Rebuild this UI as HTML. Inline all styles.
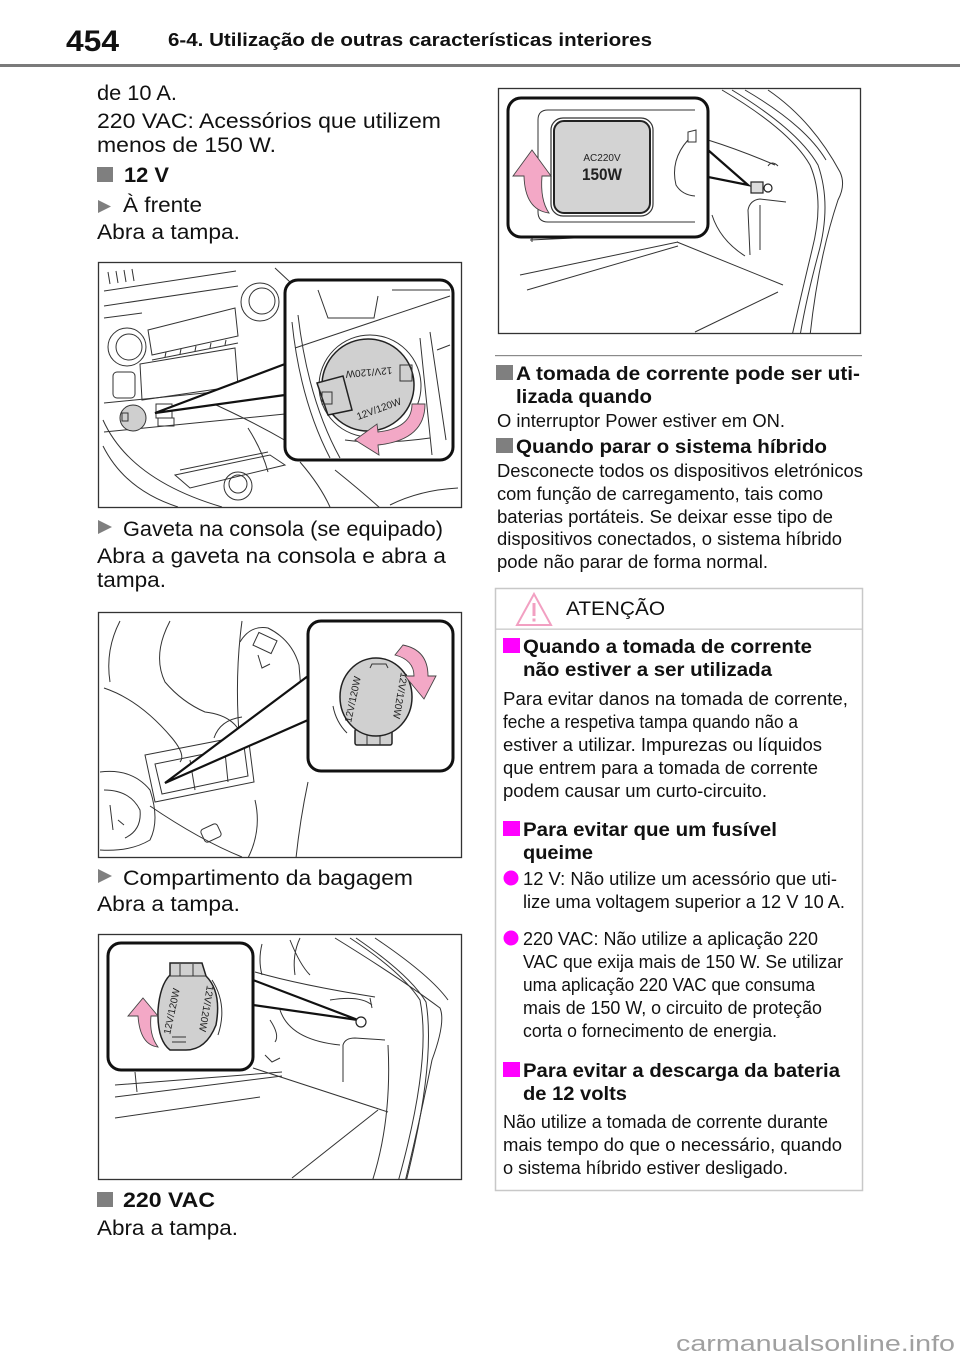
<!DOCTYPE html>
<html><head><meta charset="utf-8">
<style>html,body{margin:0;padding:0;background:#fff}svg{display:block}</style>
</head><body>
<svg width="960" height="1362" viewBox="0 0 960 1362" xmlns="http://www.w3.org/2000/svg" font-family="'Liberation Sans', Arial, sans-serif">
<defs>
<clipPath id="c1"><rect x="98" y="262" width="364" height="246"/></clipPath>
<clipPath id="c2"><rect x="98" y="612" width="364" height="246"/></clipPath>
<clipPath id="c3"><rect x="98" y="934" width="364" height="246"/></clipPath>
<clipPath id="c4"><rect x="498" y="88" width="363" height="246"/></clipPath>
</defs>
<style>
.t{font-size:21px;fill:#111}
.s{font-size:18px;fill:#111}
.h{font-size:19px;font-weight:bold;fill:#111}
.ln{fill:none;stroke:#333;stroke-width:1}
.cap{fill:#d0d0d0;stroke:#222;stroke-width:1.5}
.pk{fill:#f3a8c6;stroke:#444;stroke-width:0.9}
.co{fill:#fff;stroke:#111;stroke-width:3}
.ct{font-size:10px;fill:#222}
</style>

<!-- Header -->
<text x="66" y="51" font-size="30" font-weight="bold" fill="#111" textLength="53" lengthAdjust="spacingAndGlyphs">454</text>
<text x="168" y="46" font-size="18" font-weight="bold" fill="#111" textLength="484" lengthAdjust="spacingAndGlyphs">6-4. Utilização de outras características interiores</text>
<rect x="0" y="64" width="960" height="3" fill="#7a7a7a"/>

<!-- Left column text -->
<text class="t" x="97" y="100" textLength="80" lengthAdjust="spacingAndGlyphs">de 10 A.</text>
<text class="t" x="97" y="128" textLength="344" lengthAdjust="spacingAndGlyphs">220 VAC: Acessórios que utilizem</text>
<text class="t" x="97" y="152" textLength="179" lengthAdjust="spacingAndGlyphs">menos de 150 W.</text>
<rect x="97" y="167" width="16" height="15" fill="#7f7f7f"/>
<text class="t" x="124" y="182" font-weight="bold" textLength="45" lengthAdjust="spacingAndGlyphs">12 V</text>
<polygon points="98,200 111,206.5 98,213" fill="#7f7f7f"/>
<text class="t" x="123" y="212" textLength="79" lengthAdjust="spacingAndGlyphs">À frente</text>
<text class="t" x="97" y="239" textLength="143" lengthAdjust="spacingAndGlyphs">Abra a tampa.</text>

<polygon points="98,520 112,527 98,534" fill="#7f7f7f"/>
<text class="t" x="123" y="536" textLength="320" lengthAdjust="spacingAndGlyphs">Gaveta na consola (se equipado)</text>
<text class="t" x="97" y="563" textLength="349" lengthAdjust="spacingAndGlyphs">Abra a gaveta na consola e abra a</text>
<text class="t" x="97" y="587" textLength="69" lengthAdjust="spacingAndGlyphs">tampa.</text>

<polygon points="98,869 112,876 98,883" fill="#7f7f7f"/>
<text class="t" x="123" y="885" textLength="290" lengthAdjust="spacingAndGlyphs">Compartimento da bagagem</text>
<text class="t" x="97" y="911" textLength="143" lengthAdjust="spacingAndGlyphs">Abra a tampa.</text>

<rect x="97" y="1192" width="16" height="15" fill="#7f7f7f"/>
<text class="t" x="123" y="1207" font-weight="bold" textLength="92" lengthAdjust="spacingAndGlyphs">220 VAC</text>
<text class="t" x="97" y="1235" textLength="141" lengthAdjust="spacingAndGlyphs">Abra a tampa.</text>

<!-- Illustration 1 -->
<rect x="98.5" y="262.5" width="363" height="245" fill="#fff" stroke="#333" stroke-width="1.3"/>
<g clip-path="url(#c1)">
  <path class="ln" d="M108 272 L110 284 M116 271 L118 283 M124 270 L126 282 M132 269 L134 281"/>
  <path class="ln" d="M104 291 L236 271 M104 306 L238 286 M104 318 L142 313"/>
  <polygon class="ln" points="148,330 235,308 238,336 152,355"/>
  <path class="ln" d="M152 360 L238 343 M165 357 L166 352 M180 354 L181 349 M195 351 L196 346 M210 348 L211 343 M225 345 L226 340"/>
  <polygon class="ln" points="140,364 235,348 238,386 142,400"/>
  <rect class="ln" x="113" y="372" width="22" height="26" rx="4"/>
  <circle class="ln" cx="260" cy="302" r="19" fill="#fff"/>
  <circle class="ln" cx="262" cy="301" r="13"/>
  <circle class="ln" cx="127" cy="347" r="19" fill="#fff"/>
  <circle class="ln" cx="129" cy="347" r="13"/>
  <path class="ln" d="M104 403 L285 385 M104 432 L285 414"/>
  <circle cx="133" cy="418" r="13" fill="#cfcfcf" stroke="#333" stroke-width="1"/>
  <rect class="ln" x="122" y="413" width="6" height="8"/>
  <rect class="ln" x="156" y="404" width="16" height="14"/>
  <rect class="ln" x="158" y="418" width="16" height="8"/>
  <path class="ln" d="M103 420 Q130 480 222 507 M103 446 Q125 490 178 507"/>
  <path class="ln" d="M205 400 Q250 420 288 442 M248 428 Q262 450 268 472"/>
  <path class="ln" d="M175 475 L270 455 L285 465 L190 488 Z M180 470 L268 452"/>
  <circle class="ln" cx="238" cy="486" r="14" fill="#fff"/>
  <circle class="ln" cx="238" cy="484" r="9"/>
  <path class="ln" d="M335 470 Q360 490 380 508 M390 505 Q420 490 458 488 M300 462 Q320 485 330 507"/>
  <path class="ln" d="M275 268 L290 282"/>
</g>
<polygon points="285,364 155,413 285,395" fill="#fff" stroke="#111" stroke-width="2.2"/>
<rect class="co" x="285" y="280" width="168" height="180" rx="13"/>
<g>
  <path class="ln" d="M295 348 L450 296"/>
  <path class="ln" d="M318 290 L328 318 L374 318 L378 296"/>
  <path class="ln" d="M392 290 L450 290"/>
  <path class="ln" d="M292 322 Q300 400 330 458 M298 315 Q308 400 340 458"/>
  <path class="ln" d="M420 338 L432 455 M430 332 L446 440 M437 350 L450 345"/>
  <path class="ln" d="M345 440 Q380 445 430 438"/>
  <circle class="ln" cx="370" cy="386" r="51"/>
  <circle class="cap" cx="368" cy="385" r="46"/>
  <polygon class="cap" points="317,383 343,376 352,410 328,415"/>
  <rect class="ln" x="322" y="392" width="10" height="12"/>
  <rect class="ln" x="400" y="365" width="12" height="16"/>
  <text class="ct" transform="translate(370,385) rotate(175)" y="16" text-anchor="middle">12V/120W</text>
  <text class="ct" transform="translate(380,412) rotate(-20)" text-anchor="middle">12V/120W</text>
  <path class="pk" d="M412 404 Q412 428 378 432 L377 424 L355 440 L379 455 L378 445 Q425 440 425 404 Z"/>
</g>

<!-- Illustration 2 -->
<rect x="98.5" y="612.5" width="363" height="245" fill="#fff" stroke="#333" stroke-width="1.3"/>
<g clip-path="url(#c2)">
  <path class="ln" d="M120 621 Q105 650 110 682"/>
  <path class="ln" d="M104 688 Q140 700 172 738 Q186 755 180 762"/>
  <path class="ln" d="M170 621 Q152 655 165 682 Q182 702 205 712 Q240 716 244 745"/>
  <path class="ln" d="M242 621 Q234 680 240 746"/>
  <path class="ln" d="M240 642 Q250 625 268 628 Q292 640 299 665 L301 690 Q299 702 290 706"/>
  <rect class="ln" x="255" y="636" width="20" height="14" transform="rotate(25 265 643)"/>
  <path class="ln" d="M258 655 L262 668 L270 664"/>
  <path class="ln" d="M214 738 Q220 720 242 717"/>
  <polygon class="ln" points="145,755 248,735 254,782 155,802"/>
  <polygon class="ln" points="155,764 244,746 248,776 162,794"/>
  <path class="ln" d="M190 760 L195 790 M225 752 L228 782"/>
  <path class="ln" d="M100 772 Q132 768 150 790 Q160 820 150 840 Q130 852 100 850"/>
  <path class="ln" d="M104 790 Q130 790 140 810 Q142 830 125 838 M110 805 L113 830 M118 820 L124 825"/>
  <path class="ln" d="M150 806 Q200 840 242 857 M255 800 Q262 830 248 858"/>
  <path class="ln" d="M308 782 Q300 820 296 858"/>
  <rect class="ln" x="202" y="826" width="18" height="14" rx="3" transform="rotate(-25 211 833)"/>
</g>
<polygon points="308,676 165,783 308,720" fill="#fff" stroke="#111" stroke-width="2.2"/>
<rect class="co" x="308" y="621" width="145" height="150" rx="13"/>
<g>
  <rect class="cap" x="355" y="729" width="37" height="16" rx="2"/>
  <path class="ln" d="M367 731 L367 745 M380 731 L380 745"/>
  <ellipse class="cap" cx="376" cy="697" rx="36" ry="39"/>
  <path class="ln" d="M370 668 L372 664 L386 664 L388 668"/>
  <path class="ln" d="M333 706 Q336 722 347 733"/>
  <text class="ct" transform="translate(356,700) rotate(-78)" text-anchor="middle">12V/120W</text>
  <text class="ct" transform="translate(397,695) rotate(100)" text-anchor="middle">12V/120W</text>
  <path class="pk" d="M403 645 Q428 650 428 676 L436 676 L424 699 L405 676 L414 676 Q414 660 395 655 Z"/>
</g>

<!-- Illustration 3 -->
<rect x="98.5" y="934.5" width="363" height="245" fill="#fff" stroke="#333" stroke-width="1.3"/>
<g clip-path="url(#c3)">
  <path class="ln" d="M335 938 Q400 978 440 1008 Q446 1022 432 1060 Q420 1120 405 1182"/>
  <path class="ln" d="M350 938 Q402 972 420 1000 Q432 1060 398 1182"/>
  <path class="ln" d="M356 938 Q410 975 426 1002 Q436 1062 406 1182"/>
  <path class="ln" d="M375 938 Q430 975 448 1000"/>
  <path class="ln" d="M388 1045 Q392 1120 372 1182"/>
  <path class="ln" d="M255 972 Q300 985 375 997 M262 944 Q258 960 262 975"/>
  <path class="ln" d="M290 940 Q300 965 310 975 M300 938 Q292 955 295 975"/>
  <path class="ln" d="M330 1000 Q360 995 372 1005 M370 998 L372 1008"/>
  <path class="ln" d="M343 1082 L343 1045 Q345 1038 355 1038 L385 1040"/>
  <path class="ln" d="M280 1010 Q290 1040 340 1045"/>
  <path class="ln" d="M270 1020 Q280 1035 275 1042"/>
  <path class="ln" d="M115 1085 L282 1072 M115 1097 L282 1076 M115 1118 L260 1097"/>
  <path class="ln" d="M253 1068 L388 1112"/>
  <path class="ln" d="M292 1178 L378 1110"/>
  <path class="ln" d="M265 1055 L272 1062 L280 1058"/>
  <path class="ln" d="M135 1072 L137 1092"/>
</g>
<polygon points="253,980 358,1020 253,1005" fill="#fff" stroke="#111" stroke-width="2.2"/>
<circle cx="361" cy="1022" r="5" fill="#fff" stroke="#222" stroke-width="1.2"/>
<rect class="co" x="108" y="943" width="145" height="127" rx="13"/>
<g>
  <path class="ln" d="M212 980 Q228 1005 218 1035"/>
  <path class="cap" d="M170 963 L202 963 L206 976 Q222 992 216 1025 Q206 1050 186 1050 L170 1050 Q157 1040 158 1010 Q160 985 170 975 Z"/>
  <path class="ln" d="M180 964 L180 976 M193 964 L193 976 M170 976 L206 976"/>
  <path class="ln" d="M172 1037 L186 1037 M172 1042 L186 1042"/>
  <text class="ct" transform="translate(175,1012) rotate(-78)" text-anchor="middle">12V/120W</text>
  <text class="ct" transform="translate(203,1008) rotate(100)" text-anchor="middle">12V/120W</text>
  <path class="pk" d="M143 998 L158 1016 L151 1016 Q149 1035 158 1047 Q140 1045 138 1016 L128 1016 Z"/>
</g>

<!-- Illustration 4 -->
<rect x="498.5" y="88.5" width="362" height="245" fill="#fff" stroke="#333" stroke-width="1.3"/>
<g clip-path="url(#c4)">
  <path class="ln" d="M768 90 Q812 120 840 172 Q846 185 838 200 Q818 260 810 336"/>
  <path class="ln" d="M722 90 Q790 130 810 165 Q825 200 812 250 Q800 300 792 336"/>
  <path class="ln" d="M732 90 Q798 130 818 165 Q832 205 818 255 Q806 300 800 336"/>
  <path class="ln" d="M745 90 Q805 125 826 160"/>
  <path class="ln" d="M750 255 L748 210 Q750 200 760 199 L786 202 M760 205 L760 250"/>
  <path class="ln" d="M708 140 Q740 150 775 165 M768 166 Q772 160 778 166"/>
  <path class="ln" d="M712 215 Q720 240 745 256"/>
  <path class="ln" d="M520 275 L678 242 M527 290 L678 246 M677 242 L783 285 M695 332 L778 292"/>
  <path class="ln" d="M530 240 L596 237 M532 236 L532 242"/>
</g>
<polygon points="708,150 748,185 708,177" fill="#fff" stroke="#111" stroke-width="2.2"/>
<rect x="751" y="182" width="12" height="11" fill="#ddd" stroke="#222" stroke-width="1.2"/>
<circle cx="768" cy="188" r="4" fill="#fff" stroke="#222" stroke-width="1.2"/>
<rect class="co" x="508" y="98" width="200" height="139" rx="13"/>
<g>
  <path class="ln" d="M695 110 L548 110 Q538 110 538 120 L538 212 Q538 222 548 222 L695 222"/>
  <rect x="551" y="118" width="102" height="98" rx="12" fill="none" stroke="#333" stroke-width="1.2"/>
  <rect x="554" y="121" width="96" height="92" rx="10" fill="#d3d3d3" stroke="#222" stroke-width="2"/>
  <text x="602" y="161" font-size="10" text-anchor="middle" fill="#222">AC220V</text>
  <text x="602" y="180" font-size="17" font-weight="bold" text-anchor="middle" fill="#222" textLength="40" lengthAdjust="spacingAndGlyphs">150W</text>
  <path class="ln" d="M688 140 Q670 160 676 185 Q682 195 695 196"/>
  <path class="ln" d="M688 132 L688 142 L696 142 L696 130 Z"/>
  <path class="pk" d="M532 150 L551 176 L542 176 Q540 200 549 213 Q525 210 524 176 L513 176 Z"/>
</g>

<!-- Right column -->
<rect x="495" y="355" width="367" height="1.2" fill="#8a8a8a"/>
<rect x="496" y="365" width="17" height="15" fill="#7f7f7f"/>
<text class="h" x="516" y="380" textLength="344" lengthAdjust="spacingAndGlyphs">A tomada de corrente pode ser uti-</text>
<text class="h" x="516" y="403" textLength="136" lengthAdjust="spacingAndGlyphs">lizada quando</text>
<text class="s" x="497" y="427" textLength="288" lengthAdjust="spacingAndGlyphs">O interruptor Power estiver em ON.</text>
<rect x="496" y="438" width="17" height="15" fill="#7f7f7f"/>
<text class="h" x="516" y="453" textLength="311" lengthAdjust="spacingAndGlyphs">Quando parar o sistema híbrido</text>
<text class="s" x="497" y="477" textLength="366" lengthAdjust="spacingAndGlyphs">Desconecte todos os dispositivos eletrónicos</text>
<text class="s" x="497" y="500" textLength="326" lengthAdjust="spacingAndGlyphs">com função de carregamento, tais como</text>
<text class="s" x="497" y="523" textLength="336" lengthAdjust="spacingAndGlyphs">baterias portáteis. Se deixar esse tipo de</text>
<text class="s" x="497" y="545" textLength="345" lengthAdjust="spacingAndGlyphs">dispositivos conectados, o sistema híbrido</text>
<text class="s" x="497" y="568" textLength="271" lengthAdjust="spacingAndGlyphs">pode não parar de forma normal.</text>

<!-- ATENÇÃO box -->
<rect x="495.5" y="588.5" width="367" height="602" fill="none" stroke="#c8c8c8" stroke-width="1.5"/>
<rect x="495" y="628.5" width="368" height="1.3" fill="#c8c8c8"/>
<polygon points="534,594 551,625 517,625" fill="none" stroke="#f2a0c2" stroke-width="2"/>
<rect x="532.5" y="603" width="3" height="13" fill="#f2a0c2"/>
<rect x="532.5" y="618.5" width="3" height="3" fill="#f2a0c2"/>
<text x="566" y="615" font-size="19" fill="#111" textLength="99" lengthAdjust="spacingAndGlyphs">ATENÇÃO</text>

<rect x="503" y="638" width="17" height="15" fill="#ff00ff"/>
<text class="h" x="523" y="653" textLength="289" lengthAdjust="spacingAndGlyphs">Quando a tomada de corrente</text>
<text class="h" x="523" y="676" textLength="249" lengthAdjust="spacingAndGlyphs">não estiver a ser utilizada</text>
<text class="s" x="503" y="705" textLength="345" lengthAdjust="spacingAndGlyphs">Para evitar danos na tomada de corrente,</text>
<text class="s" x="503" y="728" textLength="295" lengthAdjust="spacingAndGlyphs">feche a respetiva tampa quando não a</text>
<text class="s" x="503" y="751" textLength="319" lengthAdjust="spacingAndGlyphs">estiver a utilizar. Impurezas ou líquidos</text>
<text class="s" x="503" y="774" textLength="315" lengthAdjust="spacingAndGlyphs">que entrem para a tomada de corrente</text>
<text class="s" x="503" y="797" textLength="264" lengthAdjust="spacingAndGlyphs">podem causar um curto-circuito.</text>

<rect x="503" y="821" width="17" height="15" fill="#ff00ff"/>
<text class="h" x="523" y="836" textLength="254" lengthAdjust="spacingAndGlyphs">Para evitar que um fusível</text>
<text class="h" x="523" y="859" textLength="70" lengthAdjust="spacingAndGlyphs">queime</text>
<circle cx="511" cy="878" r="7.5" fill="#ff00ff"/>
<text class="s" x="523" y="885" textLength="314" lengthAdjust="spacingAndGlyphs">12 V: Não utilize um acessório que uti-</text>
<text class="s" x="523" y="908" textLength="322" lengthAdjust="spacingAndGlyphs">lize uma voltagem superior a 12 V 10 A.</text>
<circle cx="511" cy="938" r="7.5" fill="#ff00ff"/>
<text class="s" x="523" y="945" textLength="295" lengthAdjust="spacingAndGlyphs">220 VAC: Não utilize a aplicação 220</text>
<text class="s" x="523" y="968" textLength="320" lengthAdjust="spacingAndGlyphs">VAC que exija mais de 150 W. Se utilizar</text>
<text class="s" x="523" y="991" textLength="292" lengthAdjust="spacingAndGlyphs">uma aplicação 220 VAC que consuma</text>
<text class="s" x="523" y="1014" textLength="299" lengthAdjust="spacingAndGlyphs">mais de 150 W, o circuito de proteção</text>
<text class="s" x="523" y="1037" textLength="254" lengthAdjust="spacingAndGlyphs">corta o fornecimento de energia.</text>

<rect x="503" y="1062" width="17" height="15" fill="#ff00ff"/>
<text class="h" x="523" y="1077" textLength="317" lengthAdjust="spacingAndGlyphs">Para evitar a descarga da bateria</text>
<text class="h" x="523" y="1100" textLength="104" lengthAdjust="spacingAndGlyphs">de 12 volts</text>
<text class="s" x="503" y="1128" textLength="325" lengthAdjust="spacingAndGlyphs">Não utilize a tomada de corrente durante</text>
<text class="s" x="503" y="1151" textLength="339" lengthAdjust="spacingAndGlyphs">mais tempo do que o necessário, quando</text>
<text class="s" x="503" y="1174" textLength="285" lengthAdjust="spacingAndGlyphs">o sistema híbrido estiver desligado.</text>

<!-- Watermark -->
<text x="676" y="1351" font-size="22" fill="#a0a0a0" textLength="279" lengthAdjust="spacingAndGlyphs">carmanualsonline.info</text>
</svg>
</body></html>
